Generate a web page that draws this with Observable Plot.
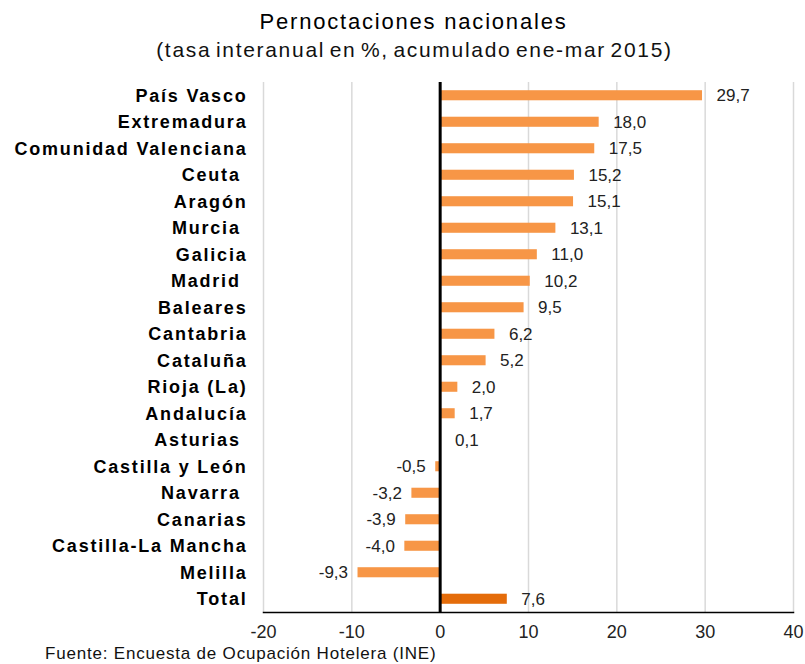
<!DOCTYPE html>
<html>
<head>
<meta charset="utf-8">
<script src="https://cdn.jsdelivr.net/npm/d3@7"></script>
<script src="https://cdn.jsdelivr.net/npm/@observablehq/plot@0.6"></script>
<style>
  html, body { margin: 0; padding: 0; background: #fff; }
  body { width: 805px; font-family: "Liberation Sans", Arial, sans-serif; color: #000; }
  .title { text-align: center; font-size: 22px; line-height: 28px; padding-top: 8px; padding-left: 22px; letter-spacing: 1.8px; }
  .subtitle { text-align: center; font-size: 21px; line-height: 28px; padding-left: 24px; color: #111; letter-spacing: 1.7px; word-spacing: -3px; }
  .caption { font-size: 17px; line-height: 18px; padding-left: 45px; color: #111; letter-spacing: 0.8px; }
  #chart svg { display: block; }
  #chart svg g[aria-label="y-axis tick label"] text { letter-spacing: 1.8px; }
</style>
</head>
<body>
<div class="title">Pernoctaciones nacionales</div>
<div class="subtitle">(tasa interanual en %, acumulado ene-mar 2015)</div>
<div id="chart"></div>
<div class="caption">Fuente: Encuesta de Ocupación Hotelera (INE)</div>
<script>
const regions = ["País Vasco", "Extremadura", "Comunidad Valenciana", "Ceuta\u00a0", "Aragón", "Murcia\u00a0", "Galicia", "Madrid\u00a0", "Baleares", "Cantabria", "Cataluña", "Rioja (La)", "Andalucía", "Asturias\u00a0", "Castilla y León", "Navarra\u00a0", "Canarias", "Castilla-La Mancha", "Melilla", "Total"];
const values = [29.7, 18.0, 17.5, 15.2, 15.1, 13.1, 11.0, 10.2, 9.5, 6.2, 5.2, 2.0, 1.7, 0.1, -0.5, -3.2, -3.9, -4.0, -9.3, 7.6];
const xTicks = [-20, -10, 0, 10, 20, 30, 40];
const gridTicks = [-20, -10, 10, 20, 30, 40];

const data = regions.map((r, i) => ({region: r, value: values[i], total: r === "Total"}));
const fmt = v => v.toFixed(1).replace(".", ",");

const chart = Plot.plot({
  width: 805,
  height: 581,
  marginTop: 18,
  marginBottom: 33,
  marginLeft: 263,
  marginRight: 12,
  style: {fontFamily: "'Liberation Sans', Arial, sans-serif", background: "#fff", color: "#000"},
  x: {domain: [-20, 40], ticks: xTicks, tickSize: 0, tickPadding: 14, label: null, tickFormat: d => String(d)},
  y: {domain: regions, round: false, paddingInner: 0.62, paddingOuter: 0.31, label: null, tickSize: 0, tickPadding: 16},
  marks: [
    Plot.ruleX(gridTicks, {stroke: "#d9d9d9", strokeWidth: 1.5}),
    Plot.barX(data, {x: "value", y: "region", fill: d => d.total ? "#E46C0A" : "#F79646"}),
    Plot.ruleX([0], {stroke: "#000", strokeWidth: 3}),
    Plot.frame({anchor: "bottom", stroke: "#000", strokeWidth: 1.5}),
    Plot.text(data.filter(d => d.value >= 0), {x: "value", y: "region", text: d => fmt(d.value), textAnchor: "start", dx: 14, fontSize: 17, fill: "#222"}),
    Plot.text(data.filter(d => d.value < 0), {x: "value", y: "region", text: d => fmt(d.value), textAnchor: "end", dx: -10, fontSize: 17, fill: "#222"}),
    Plot.axisX({ticks: xTicks, tickSize: 0, tickPadding: 13, fontSize: 18, fill: "#222", label: null, tickFormat: d => String(d)}),
    Plot.axisY({tickSize: 0, tickPadding: 16, fontSize: 18, fontWeight: "bold", fill: "#000", label: null})
  ]
});
document.getElementById("chart").appendChild(chart);
</script>
</body>
</html>
